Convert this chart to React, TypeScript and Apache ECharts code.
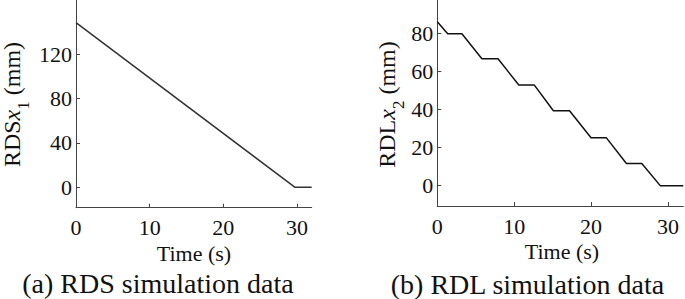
import React, { useEffect, useRef } from "react";
import * as echarts from "echarts";

// Panel (a): RDS simulation data
const rdsTime = [0, 29.7, 32];
const rdsValue = [148.5, 0, 0];

// Panel (b): RDL simulation data
const rdlTime = [0, 1.35, 3.2, 5.8, 7.9, 10.6, 12.6, 15.1, 17.2, 20.0, 22.0, 24.6, 26.6, 29.0, 32];
const rdlValue = [86.1, 79.8, 79.8, 66.6, 66.6, 52.9, 52.9, 39.3, 39.3, 25.1, 25.1, 11.6, 11.6, 0, 0];

const xTicks = [0, 10, 20, 30];
const rdsYTicks = [0, 40, 80, 120];
const rdlYTicks = [0, 20, 40, 60, 80];

const FONT = "Liberation Serif";
const AXIS_COLOR = "#444";
const TEXT_COLOR = "#111";

function zip(xs: number[], ys: number[]) {
  return xs.map((x, i) => [x, ys[i]]);
}

function yLabel(text: string, sub: string, x: number, y: number) {
  return {
    type: "text",
    x,
    y,
    rotation: Math.PI / 2,
    style: {
      text: `{a|${text}}{i|x}{s|${sub}}{a| (mm)}`,
      align: "center",
      verticalAlign: "middle",
      fill: TEXT_COLOR,
      fontFamily: FONT,
      rich: {
        a: { fontFamily: FONT, fontSize: 24, lineHeight: 40, verticalAlign: "middle", fill: TEXT_COLOR },
        i: { fontFamily: FONT, fontSize: 24, lineHeight: 40, fontStyle: "italic", verticalAlign: "middle", fill: TEXT_COLOR },
        s: { fontFamily: FONT, fontSize: 17, lineHeight: 17, verticalAlign: "bottom", fill: TEXT_COLOR },
      },
    },
  };
}

function plainText(text: string, x: number, y: number, size: number) {
  return {
    type: "text",
    x,
    y,
    style: {
      text,
      align: "center",
      verticalAlign: "middle",
      fontFamily: FONT,
      fontSize: size,
      lineHeight: size,
      fill: TEXT_COLOR,
    },
  };
}

function xAxisCfg(gridIndex: number) {
  return {
    type: "value",
    gridIndex,
    min: 0,
    max: 32,
    interval: 10,
    axisLine: { show: true, onZero: false, lineStyle: { color: AXIS_COLOR, width: 1 } },
    axisTick: { show: true, inside: true, length: 4, customValues: xTicks, lineStyle: { color: AXIS_COLOR } },
    axisLabel: {
      margin: 9,
      fontFamily: FONT,
      fontSize: 22,
      color: TEXT_COLOR,
      customValues: xTicks,
      formatter: (v: number) => String(v),
    },
    splitLine: { show: false },
  };
}

function yAxisCfg(gridIndex: number, min: number, max: number, ticks: number[]) {
  return {
    type: "value",
    gridIndex,
    min,
    max,
    axisLine: { show: true, onZero: false, lineStyle: { color: AXIS_COLOR, width: 1 } },
    axisTick: { show: true, inside: true, length: 4, customValues: ticks, lineStyle: { color: AXIS_COLOR } },
    axisLabel: {
      margin: 4,
      fontFamily: FONT,
      fontSize: 22,
      color: TEXT_COLOR,
      customValues: ticks,
      formatter: (v: number) => String(v),
    },
    splitLine: { show: false },
  };
}

export default function App() {
  const ref = useRef<HTMLDivElement>(null);

  useEffect(() => {
    if (!ref.current) return;
    const chart = echarts.init(ref.current, null, { renderer: "svg" });
    chart.setOption({
      animation: false,
      backgroundColor: "#fff",
      textStyle: { fontFamily: FONT },
      grid: [
        { left: 76, top: 0, width: 235.7, height: 207.7, containLabel: false },
        { left: 437.3, top: 0, width: 246, height: 206, containLabel: false },
      ],
      xAxis: [xAxisCfg(0), xAxisCfg(1)],
      yAxis: [
        yAxisCfg(0, -18.5, 169, rdsYTicks),
        yAxisCfg(1, -10.7, 97.5, rdlYTicks),
      ],
      series: [
        {
          type: "line",
          xAxisIndex: 0,
          yAxisIndex: 0,
          data: zip(rdsTime, rdsValue),
          showSymbol: false,
          lineStyle: { color: "#333", width: 1.5 },
        },
        {
          type: "line",
          xAxisIndex: 1,
          yAxisIndex: 1,
          data: zip(rdlTime, rdlValue),
          showSymbol: false,
          lineStyle: { color: "#111", width: 1.5 },
        },
      ],
      graphic: [
        yLabel("RDS", "1", 12, 104.5),
        yLabel("RDL", "2", 387, 104.5),
        plainText("Time (s)", 194, 253, 22),
        plainText("Time (s)", 562, 251, 22),
        plainText("(a) RDS simulation data", 158, 283.5, 28),
        plainText("(b) RDL simulation data", 527.5, 284.5, 28),
      ],
    });
    return () => chart.dispose();
  }, []);

  return (
    <div
      ref={ref}
      style={{ position: "absolute", left: 0, top: 0, width: 685, height: 299, background: "#fff" }}
    />
  );
}
